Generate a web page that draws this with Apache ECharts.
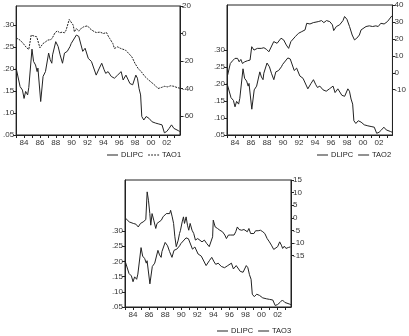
<!DOCTYPE html>
<html>
<head>
<meta charset="utf-8">
<script src="https://cdn.jsdelivr.net/npm/echarts@6/dist/echarts.min.js"></script>
<style>
  html, body { margin: 0; padding: 0; background: #fff; }
  #main { width: 409px; height: 336px; }
</style>
</head>
<body>
<div id="main"></div>
<script>
// year ticks, labels on even years
const yearTicks = [1983, 1984, 1985, 1986, 1987, 1988, 1989, 1990, 1991, 1992, 1993,
  1994, 1995, 1996, 1997, 1998, 1999, 2000, 2001, 2002, 2003];
const yearLabels = [1984, 1986, 1988, 1990, 1992, 1994, 1996, 1998, 2000, 2002];

// DLIPC (left axis), same series in all three panels
const dlipc = [
  [1983.0, .202], [1983.5, .160], [1983.8, .152], [1984.0, .133], [1984.2, .149],
  [1984.45, .141], [1984.6, .158], [1985.0, .245], [1985.2, .217], [1985.45, .209],
  [1985.65, .194], [1985.75, .202], [1986.1, .126], [1986.4, .183], [1986.6, .186],
  [1986.7, .194], [1987.1, .236], [1987.3, .221], [1987.5, .213], [1987.6, .232],
  [1988.0, .262], [1988.3, .251], [1988.55, .232], [1988.85, .213], [1989.1, .236],
  [1989.45, .240], [1989.8, .251], [1989.95, .258], [1990.6, .277], [1990.9, .274],
  [1991.1, .270], [1991.4, .240], [1991.7, .247], [1992.1, .224], [1992.5, .217],
  [1993.1, .186], [1993.5, .202], [1993.8, .213], [1994.1, .198], [1994.3, .190],
  [1994.6, .194], [1995.0, .183], [1995.4, .179], [1995.8, .186], [1996.25, .194],
  [1996.5, .175], [1996.85, .186], [1997.35, .167], [1997.7, .164], [1997.9, .167],
  [1998.1, .186], [1998.3, .179], [1998.5, .156], [1998.7, .141], [1998.85, .092],
  [1999.1, .084], [1999.4, .092], [1999.75, .088], [2000.15, .080], [2000.6, .077],
  [2001.0, .075], [2001.4, .073], [2001.7, .055], [2002.0, .058], [2002.3, .065],
  [2002.6, .073], [2002.9, .065], [2003.1, .061], [2003.45, .060], [2003.65, .058]
];

// TAO1 (right axis, panel 1)
const tao1 = [
  [1983.0, -3.2], [1983.5, -4.8], [1983.9, -7.3], [1984.3, -10.2], [1984.6, -11.6],
  [1984.9, -1.2], [1985.3, -1.9], [1985.6, -2.4], [1986.0, -10.4], [1986.4, -7.3],
  [1986.7, -6.1], [1987.0, -4.8], [1987.4, -4.4], [1987.6, -2.9], [1987.9, 0.5],
  [1988.2, 1.9], [1988.5, 0.5], [1988.8, 1.0], [1989.1, 0.5], [1989.3, 2.4],
  [1989.7, 10.2], [1989.95, 9.7], [1990.2, 6.1], [1990.35, 1.2], [1990.6, 3.6],
  [1990.9, 1.7], [1991.1, 3.2], [1991.5, 4.8], [1992.0, 5.6], [1992.3, 3.6],
  [1992.7, 1.9], [1993.1, 0.7], [1993.6, 1.0], [1994.0, 0], [1994.4, 0.7],
  [1994.6, -1.7], [1994.8, -3.6], [1995.2, -7.3], [1995.4, -10.9], [1995.8, -9.7],
  [1996.2, -10.9], [1996.8, -12.1], [1997.2, -14.5], [1997.6, -17.0], [1998.0, -21.8],
  [1998.4, -25.5], [1998.8, -27.9], [1999.2, -31.0], [1999.6, -33.2], [2000.0, -35.2],
  [2000.5, -37.6], [2000.9, -40.0], [2001.3, -39.3], [2001.7, -38.4], [2002.1, -38.8],
  [2002.5, -38.0], [2002.9, -38.4], [2003.3, -39.3], [2003.65, -39.8]
];

// TAO2 (right axis, panel 2)
const tao2 = [
  [1983.08, -1.4], [1983.41, 5.5], [1983.7, 7.1], [1983.99, 8.5], [1984.19, 7.5],
  [1984.32, 8.5], [1984.52, 6.5], [1984.73, 7.9], [1984.93, 5.5], [1985.22, 6.5],
  [1985.55, 7.1], [1985.88, 7.5], [1986.09, 15.4], [1986.37, 13.4], [1986.58, 12.4],
  [1986.79, 14.4], [1986.99, 13.4], [1987.28, 14.4], [1987.61, 14.8], [1987.94, 13.8],
  [1988.23, 12.4], [1988.43, 13.4], [1988.84, 18.4], [1989.26, 17.4], [1989.75, 20.4],
  [1990.08, 19.4], [1990.41, 16.4], [1990.7, 14.4], [1990.98, 18.4], [1991.52, 21.3],
  [1991.93, 23.3], [1992.34, 24.3], [1992.75, 25.3], [1992.96, 29.2], [1993.37, 28.8],
  [1993.78, 29.6], [1994.4, 30.2], [1994.81, 30.8], [1995.1, 29.6], [1995.43, 30.8],
  [1995.84, 30.2], [1996.17, 28.3], [1996.33, 24.9], [1996.66, 27.3], [1997.07, 28.3],
  [1997.49, 30.8], [1997.69, 33.2], [1997.98, 31.6], [1998.31, 27.3], [1998.64, 22.3],
  [1998.93, 19.4], [1999.21, 20.4], [1999.54, 22.3], [1999.75, 25.3], [1999.95, 24.3],
  [2000.37, 27.3], [2000.78, 27.7], [2001.19, 27.3], [2001.6, 27.7], [2001.89, 27.3],
  [2002.22, 29.2], [2002.63, 28.8], [2003.04, 30.2], [2003.25, 31.2], [2003.6, 33.6]
];

// TAO3 (right axis, panel 3)
const tao3 = [
  [1983.12, -0.3], [1983.53, -1.6], [1984.03, -2.2], [1984.36, -2.5], [1984.65, -3.6],
  [1984.93, -2.2], [1985.26, -1.6], [1985.59, -0.7], [1985.76, 10.3], [1985.92, 7.0],
  [1986.09, 1.7], [1986.21, -2.9], [1986.37, 1.7], [1986.58, -0.9], [1986.83, -4.2],
  [1986.99, -2.2], [1987.24, -1.6], [1987.53, -0.9], [1987.73, 0.4], [1987.94, -0.3],
  [1988.14, 1.7], [1988.35, 2.4], [1988.56, 1.7], [1988.68, 3.0], [1988.88, 0.4],
  [1989.05, -2.2], [1989.21, -7.5], [1989.38, -11.4], [1989.63, -8.8], [1989.79, -6.2],
  [1989.91, -4.9], [1990.12, -1.6], [1990.28, 0.4], [1990.41, -2.2], [1990.61, 0.4],
  [1990.78, -2.9], [1990.94, -4.9], [1991.11, -2.2], [1991.35, -4.9], [1991.56, -6.2],
  [1991.77, -8.8], [1992.05, -8.2], [1992.26, -8.8], [1992.59, -9.5], [1992.88, -8.8],
  [1993.16, -10.1], [1993.49, -11.4], [1993.7, -12.1], [1993.91, -7.5], [1993.99, -0.9],
  [1994.23, -3.6], [1994.52, -4.2], [1994.81, -4.9], [1995.14, -5.5], [1995.43, -6.8],
  [1995.63, -8.2], [1995.88, -6.8], [1996.17, -6.8], [1996.37, -6.2], [1996.58, -6.8],
  [1996.79, -5.5], [1996.99, -3.6], [1997.2, -4.6], [1997.53, -4.9], [1997.81, -4.6],
  [1998.02, -4.9], [1998.23, -5.5], [1998.43, -4.2], [1998.64, -6.2], [1998.84, -5.5],
  [1999.05, -6.2], [1999.26, -5.1], [1999.58, -5.1], [1999.87, -4.9], [2000.16, -5.5],
  [2000.41, -6.2], [2000.7, -8.2], [2000.98, -9.5], [2001.23, -10.8], [2001.52, -12.5],
  [2001.72, -12.1], [2002.01, -11.4], [2002.26, -9.5], [2002.47, -10.8], [2002.63, -12.1],
  [2002.84, -11.2], [2003.04, -12.1], [2003.37, -11.7], [2003.6, -11.5]
];

// tick labels
const leftTicks = [0.05, 0.10, 0.15, 0.20, 0.25, 0.30];
const right1Ticks = [-60, -40, -20, 0, 20];
const right2Ticks = [-10, 0, 10, 20, 30, 40];
const right3Ticks = [-15, -10, -5, 0, 5, 10, 15];

const FONT = "'Liberation Sans Narrow', 'Liberation Sans', Arial, sans-serif";
const INK = '#222';
const SOLID_ICON = 'path://M0,0h12v1h-12z';
const DASH_ICON = 'path://M0,0h2v1h-2zM3.3,0h2v1h-2zM6.6,0h2v1h-2zM10,0h2v1h-2z';

function xAxisFor(gridIndex) {
  return {
    type: 'value', gridIndex: gridIndex, min: 1983, max: 2003.67,
    axisLine: { onZero: false, lineStyle: { color: INK, width: 1 } },
    axisTick: { customValues: yearTicks, length: 3, lineStyle: { color: INK } },
    axisLabel: {
      customValues: yearLabels, fontSize: 8, fontFamily: FONT, color: '#333', margin: 4,
      formatter: v => String(v).slice(2)
    },
    splitLine: { show: false }
  };
}

function leftAxis(gridIndex, max) {
  return {
    type: 'value', gridIndex: gridIndex, position: 'left', min: 0.05, max: max,
    axisLine: { show: true, onZero: false, lineStyle: { color: INK } },
    axisTick: { show: true, customValues: leftTicks, length: 3, lineStyle: { color: INK } },
    axisLabel: {
      customValues: leftTicks, fontSize: 8, fontFamily: FONT, color: '#333', margin: 2,
      formatter: v => v.toFixed(2).replace(/^0/, '')
    },
    splitLine: { show: false }
  };
}

function rightAxis(gridIndex, min, max, ticks) {
  return {
    type: 'value', gridIndex: gridIndex, position: 'right', min: min, max: max,
    axisLine: { show: true, onZero: false, lineStyle: { color: INK } },
    axisTick: { show: true, customValues: ticks, length: 3, lineStyle: { color: INK } },
    axisLabel: {
      customValues: ticks, fontSize: 8, fontFamily: FONT, color: '#333', margin: 2
    },
    splitLine: { show: false }
  };
}

function lineSeries(name, data, xi, yi, dashed) {
  return {
    name: name, type: 'line', xAxisIndex: xi, yAxisIndex: yi, data: data,
    symbol: 'none', animation: false, color: INK,
    lineStyle: { color: INK, width: 1, type: dashed ? [2, 1] : 'solid' }
  };
}

function legendFor(names, icons, left, top) {
  return {
    data: names.map((n, i) => ({ name: n, icon: icons[i] })),
    left: left, top: top, itemWidth: 11, itemHeight: 1, itemGap: 5,
    padding: 0,
    symbolKeepAspect: false,
    itemStyle: { color: INK },
    textStyle: { fontSize: 7.5, fontFamily: FONT, color: '#222', padding: [0, 0, 0, -2] },
    selectedMode: false
  };
}

const chart = echarts.init(document.getElementById('main'));
chart.setOption({
  animation: false,
  grid: [
    { left: 13, top: 6, width: 167, height: 129, show: true, borderColor: INK, borderWidth: 1 },
    { left: 227, top: 5, width: 167, height: 130, show: true, borderColor: INK, borderWidth: 1 },
    { left: 125, top: 180, width: 166, height: 127, show: true, borderColor: INK, borderWidth: 1 }
  ],
  xAxis: [xAxisFor(0), xAxisFor(1), xAxisFor(2)],
  yAxis: [
    leftAxis(0, 0.343), rightAxis(0, -73.8, 20, right1Ticks),
    leftAxis(1, 0.433), rightAxis(1, -36.7, 40, right2Ticks),
    leftAxis(2, 0.467), rightAxis(2, -35.3, 15, right3Ticks)
  ],
  legend: [
    legendFor(['DLIPC', 'TAO1'], [SOLID_ICON, DASH_ICON], 107, 151),
    legendFor(['DLIPC', 'TAO2'], [SOLID_ICON, SOLID_ICON], 317, 151),
    legendFor(['DLIPC', 'TAO3'], [SOLID_ICON, SOLID_ICON], 217, 327)
  ],
  series: [
    lineSeries('DLIPC', dlipc, 0, 0, false),
    lineSeries('TAO1', tao1, 0, 1, true),
    lineSeries('DLIPC', dlipc, 1, 2, false),
    lineSeries('TAO2', tao2, 1, 3, false),
    lineSeries('DLIPC', dlipc, 2, 4, false),
    lineSeries('TAO3', tao3, 2, 5, false)
  ]
});
</script>
</body>
</html>
